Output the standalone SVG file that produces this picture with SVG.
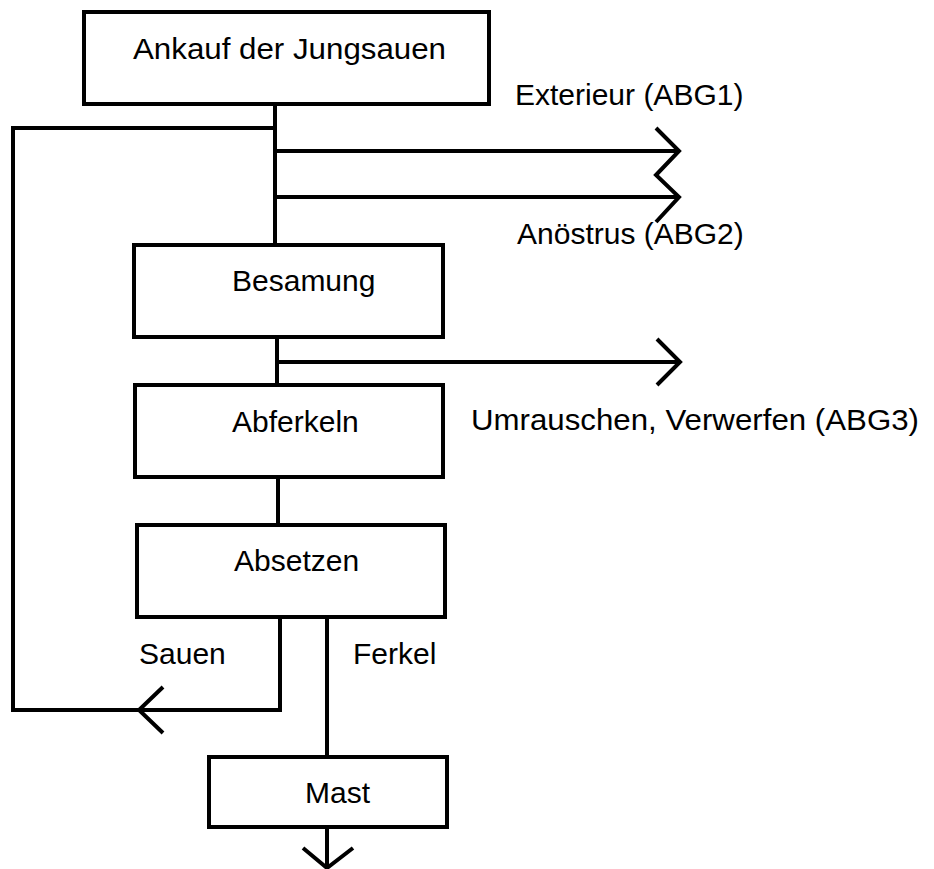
<svg xmlns="http://www.w3.org/2000/svg" width="934" height="869" viewBox="0 0 934 869">
<style>
.box{fill:none;stroke:#000;stroke-width:4}
.ln{fill:none;stroke:#000;stroke-width:4;stroke-linejoin:miter;stroke-linecap:butt}
.ah{fill:none;stroke:#000;stroke-width:4;stroke-linejoin:miter}
text{font-family:"Liberation Sans",Arial,sans-serif;font-size:30px;fill:#000}
</style>
<rect width="934" height="869" fill="#fff"/>
<g id="connectors">
<path class="ln" d="M275,104 V245"/>
<path class="ln" d="M275,128 H13 V710 H280 V617"/>
<path class="ln" d="M275,151 H679"/>
<path class="ln" d="M275,197 H679"/>
<path class="ah" d="M656,128 L679,151 L656,175 L679,197 L656,222"/>
<path class="ln" d="M277,337 V385"/>
<path class="ln" d="M277,362 H680"/>
<path class="ah" d="M657,339 L680,362 L657,385"/>
<path class="ln" d="M278,477 V525"/>
<path class="ah" d="M163,687 L139,710 L163,733"/>
<path class="ln" d="M327,617 V757"/>
<path class="ln" d="M327,827 V868"/>
<path class="ah" d="M303,848 L327,868 L353,848"/>
</g>
<g id="n-ankauf"><rect class="box" x="84" y="12" width="405" height="92"/><text x="133" y="59" font-size="31" textLength="313" lengthAdjust="spacingAndGlyphs">Ankauf der Jungsauen</text></g>
<g id="n-besamung"><rect class="box" x="134" y="245" width="309" height="92"/><text x="232" y="291">Besamung</text></g>
<g id="n-abferkeln"><rect class="box" x="135" y="385" width="308" height="92"/><text x="232" y="432">Abferkeln</text></g>
<g id="n-absetzen"><rect class="box" x="137" y="525" width="308" height="92"/><text x="234" y="571">Absetzen</text></g>
<g id="n-mast"><rect class="box" x="209" y="757" width="238" height="70"/><text x="305" y="803">Mast</text></g>
<g id="labels">
<text x="515" y="105">Exterieur (ABG1)</text>
<text x="517" y="244">Anöstrus (ABG2)</text>
<text x="471" y="430" font-size="31" textLength="448" lengthAdjust="spacingAndGlyphs">Umrauschen, Verwerfen (ABG3)</text>
<text x="139" y="664">Sauen</text>
<text x="353" y="664">Ferkel</text>
</g>
</svg>
